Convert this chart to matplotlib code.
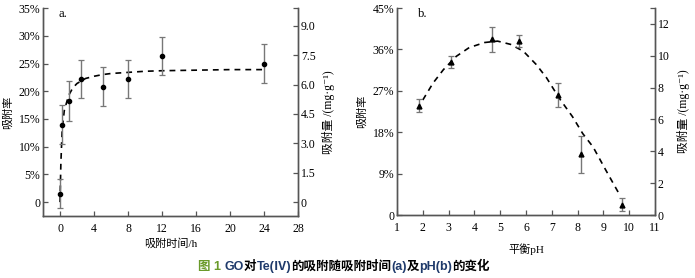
import numpy as np
import matplotlib
matplotlib.use("Agg")
import matplotlib.pyplot as plt
from matplotlib.transforms import IdentityTransform

plt.rcParams['font.family'] = ['Liberation Serif', 'Noto Sans CJK SC', 'DejaVu Serif']

# panel a: adsorption time
time_h = [0, 0.25, 1, 2.5, 5, 8, 12, 24]
rate_a = [1.5, 14.0, 18.2, 22.2, 20.8, 22.2, 26.4, 25.0]
err_a = [2.6, 3.6, 3.6, 3.5, 3.5, 3.5, 3.4, 3.5]
fit_t = [0, 0.1, 0.25, 0.5, 1.0, 1.5, 2, 3, 4, 5, 6, 8, 10, 12, 16, 20, 24]
fit_a = [0, 7, 13, 16.5, 19.2, 20.6, 21.4, 22.3, 22.7, 23.0, 23.2, 23.4, 23.6, 23.7, 23.8, 23.9, 23.9]

# panel b: pH
ph = [1.86, 3.08, 4.68, 5.74, 7.24, 8.13, 9.72]
rate_b = [23.8, 33.2, 38.2, 37.8, 26.1, 13.2, 2.2]
err_b = [1.4, 1.3, 2.7, 1.3, 2.7, 4.0, 1.4]
fit_ph = [2.0, 2.4, 2.8, 3.3, 3.8, 4.4, 4.9, 5.4, 5.9, 6.4, 6.8, 7.3, 7.8, 8.2, 8.6, 9.1, 9.65]
fit_b = [25.0, 28.7, 31.6, 34.5, 36.4, 37.5, 37.8, 37.1, 35.6, 32.7, 29.8, 25.3, 21.4, 17.7, 14.8, 9.7, 4.2]

ticks_a = [0, 5, 10, 15, 20, 25, 30, 35]
ticks_a2 = [0, 1.5, 3.0, 4.5, 6.0, 7.5, 9.0]
ticks_b = [0, 9, 18, 27, 36, 45]
ticks_b2 = [0, 2, 4, 6, 8, 10, 12]

spine_c = '#555555'
bar_c = '#777777'

fig = plt.figure(figsize=(6.95, 2.78), dpi=100)
ax1 = fig.add_axes([0.0619, 0.223, 0.3669, 0.748])
ax2 = fig.add_axes([0.5712, 0.2266, 0.3712, 0.7446])


def style(ax, axr):
    for a in (ax, axr):
        a.spines['top'].set_visible(False)
        for s in ('left', 'right', 'bottom'):
            a.spines[s].set_color(spine_c)
            a.spines[s].set_linewidth(1.0)
        a.tick_params(direction='in', length=3.5, width=0.9, color=spine_c,
                      labelsize=8.5, pad=2)
    ax.tick_params(axis='x', pad=5)
    axr.tick_params(which='minor', direction='in', length=3.5, width=0.9, color=spine_c)


# ---- panel a ----
ax1.errorbar(time_h, rate_a, yerr=err_a, fmt='o', color='black', ms=3,
             ecolor=bar_c, elinewidth=1.0, capsize=2.5, capthick=0.9, zorder=3)
ax1.plot(fit_t, fit_a, color='black', lw=1.2, dashes=(3.5, 3))
ax1.set_xlim(-2, 28)
ax1.set_ylim(-2.5, 35)
ax1.set_xticks(range(0, 29, 4))
ax1.set_yticks(ticks_a)
ax1.set_yticklabels(['0'] + ['%d%%' % v for v in ticks_a[1:]])
ax1.set_xlabel('吸附时间/h', fontsize=8, labelpad=2)
ax1.set_ylabel('吸附率', fontsize=8, labelpad=4)
ax1.text(0.06, 1.0, 'a.', transform=ax1.transAxes, fontsize=9, va='top')
ax1r = ax1.twinx()
ax1r.set_ylim(-0.7, 9.9)
ax1r.set_yticks(ticks_a2)
ax1r.set_yticklabels(['0'] + ['%.1f' % v for v in ticks_a2[1:]])
ax1r.set_yticks([9.9], minor=True)
ax1r.set_ylabel('吸附量 /(mg·g⁻¹)', fontsize=8.5, labelpad=5)
style(ax1, ax1r)

# ---- panel b ----
ax2.errorbar(ph, rate_b, yerr=err_b, fmt='^', color='black', ms=3.5,
             ecolor=bar_c, elinewidth=1.0, capsize=2.5, capthick=0.9, zorder=3)
ax2.plot(fit_ph, fit_b, color='black', lw=1.2, dashes=(3.5, 3))
ax2.set_xlim(1, 11)
ax2.set_ylim(0, 45)
ax2.set_xticks(range(1, 12))
ax2.set_yticks(ticks_b)
ax2.set_yticklabels(['0'] + ['%d%%' % v for v in ticks_b[1:]])
ax2.set_xlabel('平衡pH', fontsize=8, labelpad=7)
ax2.set_ylabel('吸附率', fontsize=8, labelpad=4)
ax2.text(0.08, 1.0, 'b.', transform=ax2.transAxes, fontsize=9, va='top')
ax2r = ax2.twinx()
ax2r.set_ylim(0, 13)
ax2r.set_yticks(ticks_b2)
ax2r.set_yticks([13], minor=True)
ax2r.set_ylabel('吸附量 /(mg·g⁻¹)', fontsize=8.5, labelpad=5)
style(ax2, ax2r)

# ---- caption, pieces laid out one after another ----
cap_font = ['Liberation Sans', 'Noto Sans CJK SC', 'DejaVu Sans']
parts = [('图 1 ', '#6a9a2a'), ('GO', '#1f3a6b'), ('对', 'black'),
         ('Te(Ⅳ)', '#1f3a6b'), ('的吸附随吸附时间', 'black'), ('(a)', '#1f3a6b'),
         ('及', 'black'), ('pH(b)', '#1f3a6b'), ('的变化', 'black')]
texts = []
for txt, col in parts:
    texts.append(fig.text(0, 0, txt, color=col, fontsize=9, fontweight='bold',
                          family=cap_font, va='baseline', ha='left'))

fig.canvas.draw()
r = fig.canvas.get_renderer()
x0 = 0.285 * fig.bbox.width
y0 = 0.03 * fig.bbox.height
for t in texts:
    t.set_transform(IdentityTransform())
    t.set_position((x0, y0))
    x0 = t.get_window_extent(r).x1

fig.savefig('out.png', dpi=100)
